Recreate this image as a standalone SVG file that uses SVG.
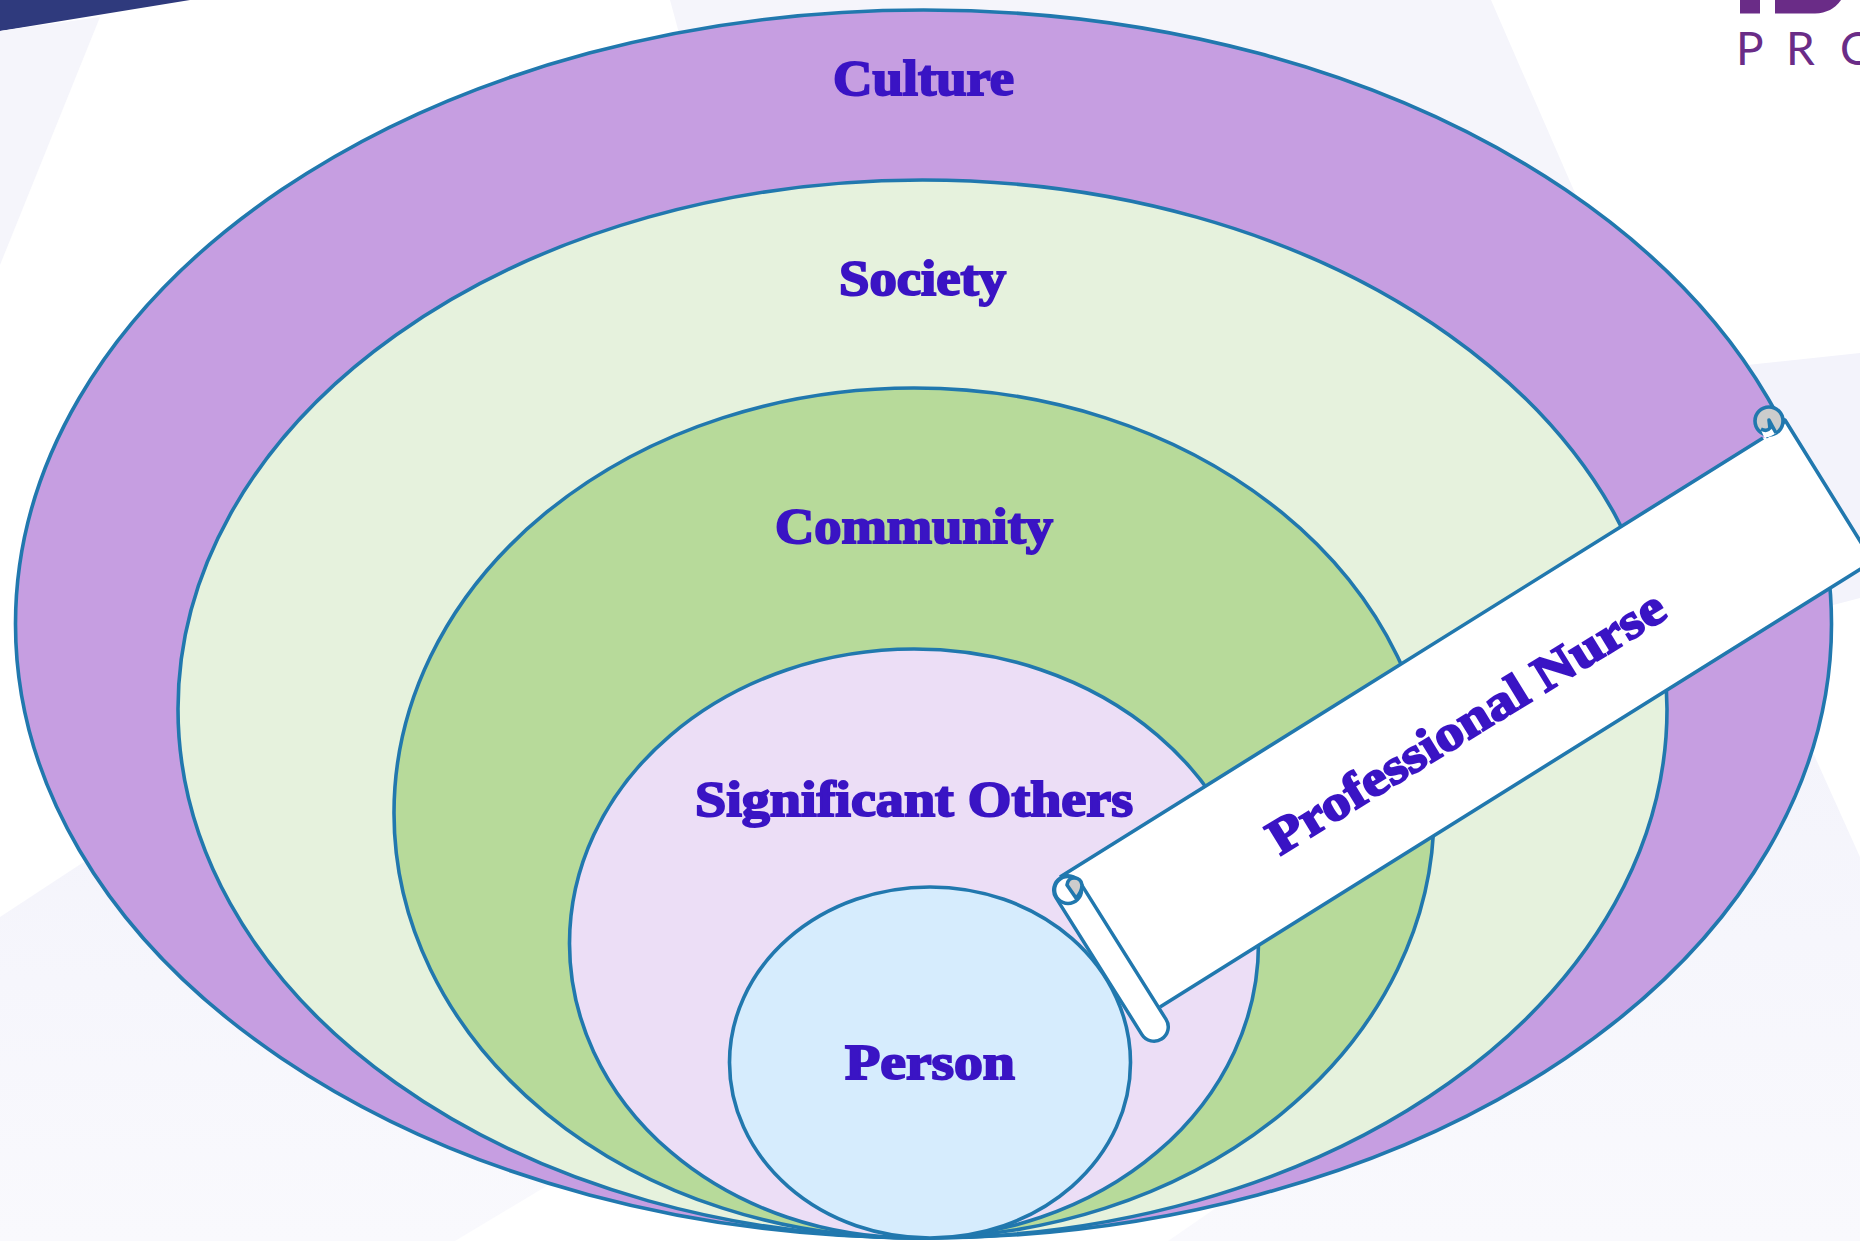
<svg xmlns="http://www.w3.org/2000/svg" width="1860" height="1241" viewBox="0 0 1860 1241">
<defs>
<style>
.ring{stroke:#2178ae;stroke-width:3.6}
.lbl{font-family:"Liberation Serif",serif;font-weight:700;font-size:50px;fill:#3a14c4;stroke:#3a14c4;stroke-width:2}
.ln{fill:none;stroke:#2178ae;stroke-width:3.6;stroke-linejoin:round}
.bg{fill:#f5f5fb}
.logo{fill:#6a2c87}
</style>
<linearGradient id="fade" x1="0" y1="0" x2="0" y2="1"><stop offset="0" stop-color="#f3f3fb"/><stop offset="1" stop-color="#f9f9fd"/></linearGradient>
</defs>
<rect width="1860" height="1241" fill="#ffffff"/>
<g id="background">
<polygon points="0,0 190,0 0,31" fill="#2f3a7d"/>
<polygon class="bg" points="0,31 100,17 0,265"/>
<polygon class="bg" points="670,0 1491,0 1700,480 800,480"/>
<polygon fill="#f3f3fb" points="1700,370 1860,353 1860,598 1700,640"/>
<polygon fill="url(#fade)" points="0,917 300,720 900,900 545,1187 455,1241 0,1241"/>
<polygon fill="url(#fade)" points="1168,1241 1300,1150 1750,640 1815,757 1860,857 1860,1241"/>
</g>
<g id="logo">
<rect class="logo" x="1740" y="0" width="20" height="13.5"/>
<path class="logo" d="M1775,0V13.5H1815Q1832,13 1841,0Z"/>
<text x="1736 1786 1840" y="65" font-family="Lato,sans-serif" font-size="46" fill="#6a2c87">PRO</text>
</g>
<g id="culture"><ellipse class="ring" cx="923.5" cy="624" rx="908" ry="614" fill="#c69ee1"/>
<text class="lbl" x="833" y="95" textLength="181" lengthAdjust="spacingAndGlyphs">Culture</text></g>
<g id="society"><ellipse class="ring" cx="922.5" cy="709" rx="744.5" ry="529" fill="#e6f2dd"/>
<text class="lbl" x="839" y="295" textLength="167" lengthAdjust="spacingAndGlyphs">Society</text></g>
<g id="community"><ellipse class="ring" cx="914" cy="813" rx="520" ry="425" fill="#b7da9a"/>
<text class="lbl" x="775" y="543" textLength="278" lengthAdjust="spacingAndGlyphs">Community</text></g>
<g id="significant-others"><ellipse class="ring" cx="914" cy="943.5" rx="344.5" ry="294.5" fill="#ecdef6"/>
<text class="lbl" x="695" y="816" textLength="438" lengthAdjust="spacingAndGlyphs">Significant Others</text></g>
<g id="person"><ellipse class="ring" cx="930" cy="1062.5" rx="200.5" ry="175.5" fill="#d6ecfd"/>
<text class="lbl" x="845" y="1079" textLength="170" lengthAdjust="spacingAndGlyphs">Person</text></g>
<g id="professional-nurse">
<path d="M1060,877L1763,438L1773,434Q1781,428 1785,420L1870,557L1870,563L1160,1007Z" fill="#fff"/>
<path class="ln" d="M1060,877L1763,438M1766,437Q1780,430 1785,420L1870,557M1160,1007L1870,563"/>
<line x1="1068" y1="890" x2="1154" y2="1027" stroke="#2178ae" stroke-width="32" stroke-linecap="round"/>
<line x1="1068" y1="890" x2="1154" y2="1027" stroke="#fff" stroke-width="25" stroke-linecap="round"/>
<circle class="ln" cx="1068" cy="890" r="13.5" style="fill:#fff"/>
<path class="ln" d="M1067,885Q1068,878 1074,878Q1081,878 1082,885Q1082,892 1076,898Z" style="fill:#ccc"/>
<circle class="ln" cx="1769" cy="421" r="14" style="fill:#ccc"/>
<path d="M1764,437L1761,430Q1768,434 1771,429L1776,433Q1770,438 1764,437Z" fill="#fff"/>
<path class="ln" d="M1761,429Q1767,432 1770,428L1769,420L1776,433"/>
<text class="lbl" transform="translate(1280,856) rotate(-31.6)" x="0" y="0" textLength="457" lengthAdjust="spacingAndGlyphs">Professional Nurse</text>
</g>
</svg>
